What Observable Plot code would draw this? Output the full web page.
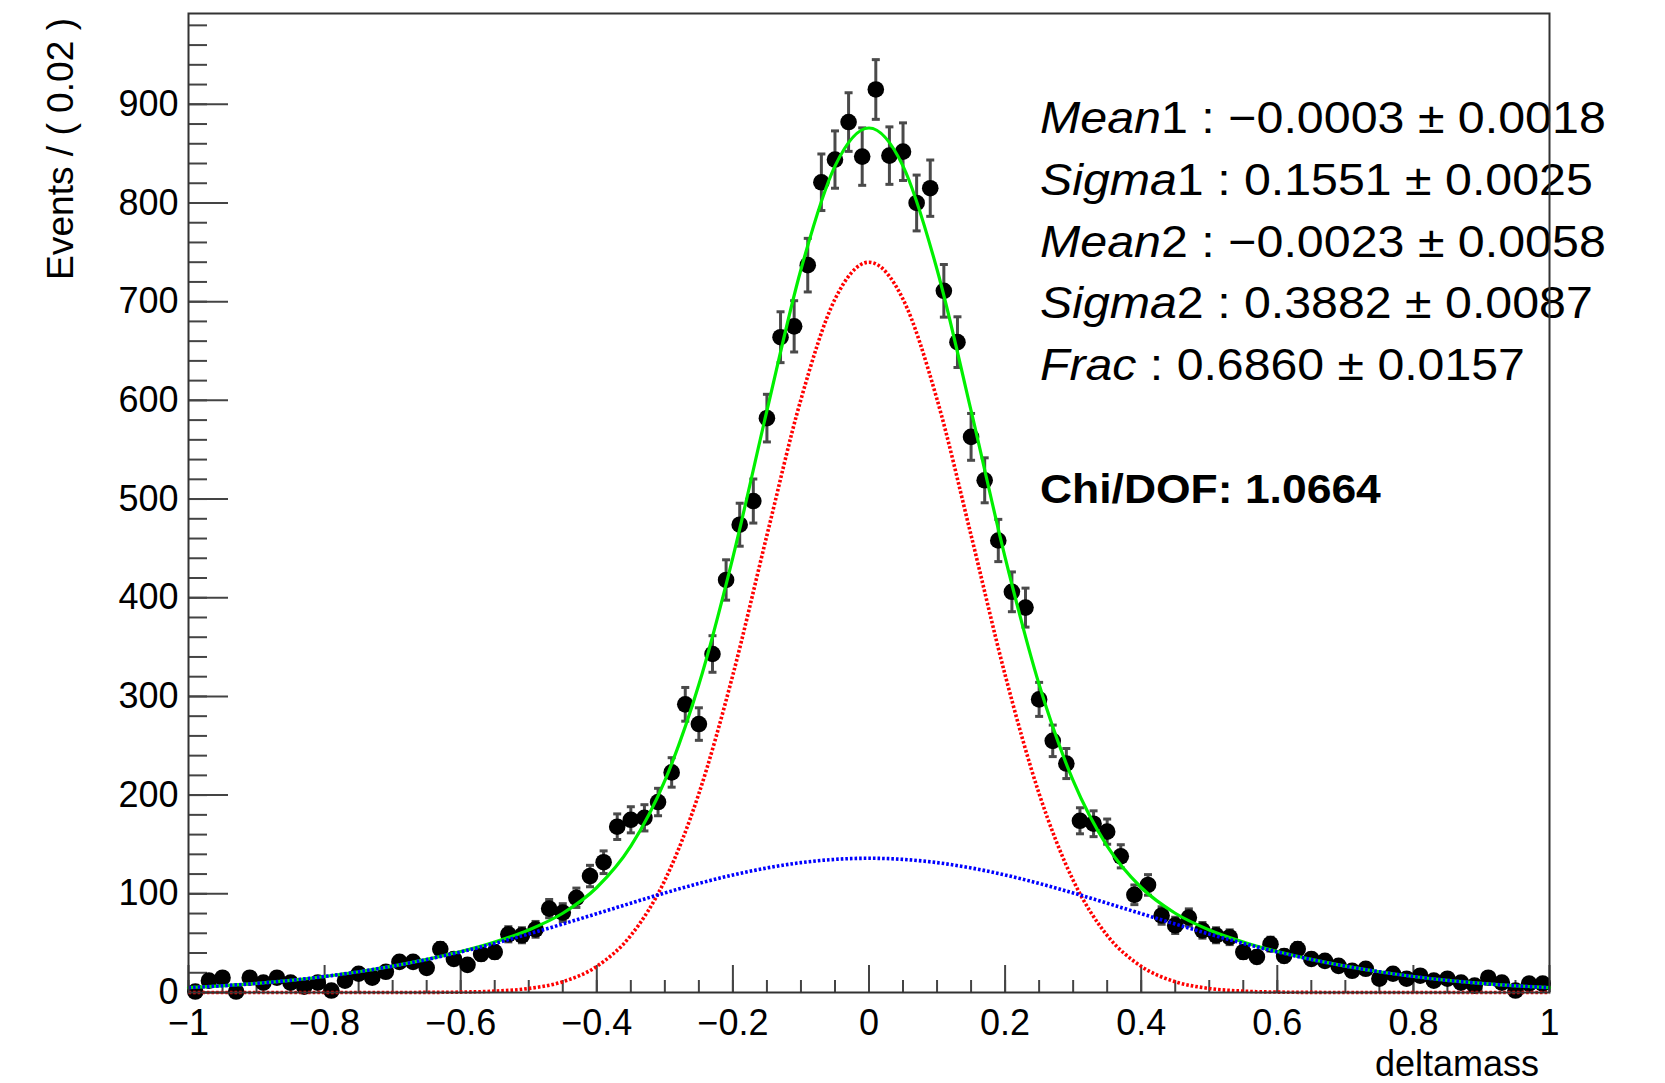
<!DOCTYPE html>
<html><head><meta charset="utf-8">
<script src="https://cdn.jsdelivr.net/npm/d3@7"></script>
<script src="https://cdn.jsdelivr.net/npm/@observablehq/plot@0.6"></script>
<style>
html,body{margin:0;padding:0;background:#fff;}
#chart{position:relative;width:1665px;height:1083px;}
</style></head><body><div id="chart"></div>
<script>
// histogram: 100 bins of width 0.02 on [-1, 1]
const binStart = -0.99;
const binWidth = 0.02;
const counts = [
  1, 12, 15, 1, 15, 10, 15, 10, 6, 10,
  2, 12, 19, 15, 21, 31, 31, 25, 44, 34,
  28, 39, 41, 59, 58, 64, 85, 81, 96, 118,
  132, 168, 175, 177, 193, 223, 292, 272, 343, 418,
  474, 498, 582, 664, 675, 737, 821, 844, 882, 847,
  915, 848, 852, 800, 815, 711, 659, 563, 519, 458,
  406, 390, 297, 255, 232, 174, 171, 163, 138, 99,
  109, 78, 68, 76, 63, 58, 56, 41, 36, 49,
  37, 44, 34, 32, 27, 22, 24, 14, 19, 14,
  17, 12, 14, 10, 7, 15, 10, 2, 9, 9
];

// fit curves
const curveX = [-1,-0.95,-0.9,-0.85,-0.8,-0.75,-0.7,-0.65,-0.6,-0.55,-0.5,-0.45,-0.4,-0.35,-0.3,-0.25,-0.2,-0.15,-0.1,-0.05,0,
  0.05,0.1,0.15,0.2,0.25,0.3,0.35,0.4,0.45,0.5,0.55,0.6,0.65,0.7,0.75,0.8,0.85,0.9,0.95,1];
const totalFit = [4.9,6.8,9.2,12.3,16.2,21.0,26.7,33.5,41.5,51.2,63.4,80.3,106.4,148.3,214.6,312.0,441.0,589.5,732.6,837.4,876,
  837.4,732.6,589.5,441.0,312.0,214.6,148.3,106.4,80.3,63.4,51.2,41.5,33.5,26.7,21.0,16.2,12.3,9.2,6.8,4.9];
const narrowGauss = [0,0,0,0,0,0,0.03,0.11,0.41,1.36,4.07,10.9,26.5,57.8,113.7,201.5,321.9,463.3,601.0,702.5,740,
  702.5,601.0,463.3,321.9,201.5,113.7,57.8,26.5,10.9,4.07,1.36,0.41,0.11,0.03,0,0,0,0,0,0];
const wideGauss = [4.9,6.8,9.2,12.3,16.2,21.0,26.7,33.4,41.1,49.8,59.3,69.4,79.9,90.5,100.9,110.5,119.1,126.2,131.6,134.9,136,
  134.9,131.6,126.2,119.1,110.5,100.9,90.5,79.9,69.4,59.3,49.8,41.1,33.4,26.7,21.0,16.2,12.3,9.2,6.8,4.9];

const xTicks = [-1,-0.8,-0.6,-0.4,-0.2,0,0.2,0.4,0.6,0.8,1];
const xMinorTicks = d3.range(-20, 21).map(k => k / 20);
const yTicks = [0,100,200,300,400,500,600,700,800,900];
const yMinorTicks = d3.range(0, 50).map(k => k * 20);

const paramNames = ["Mean", "Sigma", "Mean", "Sigma", "Frac"];
const paramIndex = ["1", "1", "2", "2", ""];
const paramValues = ["\u22120.0003 \u00b1 0.0018", "0.1551 \u00b1 0.0025", "\u22120.0023 \u00b1 0.0058", "0.3882 \u00b1 0.0087", "0.6860 \u00b1 0.0157"];
const paramWidths = [566, 553, 566, 553, 485];
const chiText = "Chi/DOF: 1.0664";
const xTitle = "deltamass";
const yTitle = "Events / ( 0.02 )";

const bins = counts.map((n, i) => ({x: binStart + i * binWidth, n, e: Math.sqrt(n)}));
const fitRows = curveX.map((x, i) => ({x, total: totalFit[i], narrow: narrowGauss[i], wide: wideGauss[i]}));

const capSymbol = {draw(context, size) { const r = Math.sqrt(size / Math.PI); context.moveTo(-r, 0); context.lineTo(r, 0); }};
const FONT = "'Liberation Sans', Arial, Helvetica, sans-serif";
const W = 1665, H = 1083, ML = 188, MR = 116, MT = 13, MB = 91;

const svg = Plot.plot({
  width: W, height: H,
  marginLeft: ML, marginRight: MR, marginTop: MT, marginBottom: MB,
  x: {domain: [-1, 1]},
  y: {domain: [0, 992]},
  style: {fontFamily: FONT, background: "white", color: "black", overflow: "visible"},
  marks: [
    Plot.axisX({ticks: xTicks, tickSize: 0, tickPadding: 17, fontSize: 36, tickFormat: d3.format(""), label: null}),
    Plot.axisX({ticks: xMinorTicks, tickSize: -12, text: null, label: null, stroke: "#444", strokeWidth: 2}),
    Plot.axisX({ticks: xTicks, tickSize: -27, text: null, label: null, stroke: "#444", strokeWidth: 2}),
    Plot.axisY({ticks: yTicks, tickSize: 0, tickPadding: 10, fontSize: 36, tickFormat: d3.format("d"), label: null}),
    Plot.axisY({ticks: yMinorTicks, tickSize: -19, text: null, label: null, stroke: "#444", strokeWidth: 2}),
    Plot.axisY({ticks: yTicks, tickSize: -40, text: null, label: null, stroke: "#444", strokeWidth: 2}),
    Plot.ruleX(bins, {x: "x", y1: d => d.n - d.e, y2: d => d.n + d.e, stroke: "#4a4a4a", strokeWidth: 3}),
    Plot.dot(bins, {x: "x", y: d => d.n - d.e, symbol: capSymbol, r: 4, stroke: "#4a4a4a", strokeWidth: 3, fill: "none"}),
    Plot.dot(bins, {x: "x", y: d => d.n + d.e, symbol: capSymbol, r: 4, stroke: "#4a4a4a", strokeWidth: 3, fill: "none"}),
    Plot.dot(bins, {x: "x", y: "n", r: 8.3, fill: "black", stroke: "none"}),
    Plot.line(fitRows, {x: "x", y: "total", stroke: "#00f000", strokeWidth: 3.2, curve: "monotone-x"}),
    Plot.line(fitRows, {x: "x", y: "narrow", stroke: "#ff0000", strokeWidth: 3.6, strokeDasharray: "2.6,2", strokeLinecap: "butt", strokeLinejoin: "miter", curve: "monotone-x"}),
    Plot.line(fitRows, {x: "x", y: "wide", stroke: "#0000ff", strokeWidth: 3.6, strokeDasharray: "2.6,2", strokeLinecap: "butt", strokeLinejoin: "miter", curve: "monotone-x"}),
    Plot.frame({stroke: "#333", strokeWidth: 2})
  ]
});
document.getElementById("chart").appendChild(svg);

const root = d3.select(svg);
const ann = root.append("g").attr("font-family", FONT).attr("fill", "black").attr("text-anchor", "start");
const plotW = W - ML - MR, plotH = H - MT - MB;
const textX = ML + 0.626 * plotW;
const rowBase = MT + 0.123 * plotH;
const rowStep = 0.0629 * plotH;

function stretch(node, target) {
  const w = node.getComputedTextLength();
  return w > 0 ? target / w : 1;
}

paramNames.forEach((name, i) => {
  const y = rowBase + i * rowStep;
  const t = ann.append("text").attr("font-size", 44);
  t.append("tspan").attr("font-style", "italic").text(name);
  if (paramIndex[i]) t.append("tspan").text(paramIndex[i]);
  t.append("tspan").text(" : " + paramValues[i]);
  const s = stretch(t.node(), paramWidths[i]);
  t.attr("transform", `translate(${textX},${y}) scale(${s},1)`);
});
const chi = ann.append("text").attr("font-size", 41).attr("font-weight", "bold").text(chiText);
const sc = stretch(chi.node(), 341);
chi.attr("transform", `translate(${textX},${MT + 0.501 * plotH}) scale(${sc},1)`);

ann.append("text").attr("font-size", 36).attr("text-anchor", "end")
  .attr("transform", `translate(${W - MR - 10},${H - 7})`).text(xTitle);
const yt = ann.append("text").attr("font-size", 37).attr("text-anchor", "end").text(yTitle);
const ys = stretch(yt.node(), 262);
yt.attr("transform", `translate(73,${MT + 5}) rotate(-90) scale(${ys},1)`);

root.select('[aria-label="frame"]').raise();
</script></body></html>
